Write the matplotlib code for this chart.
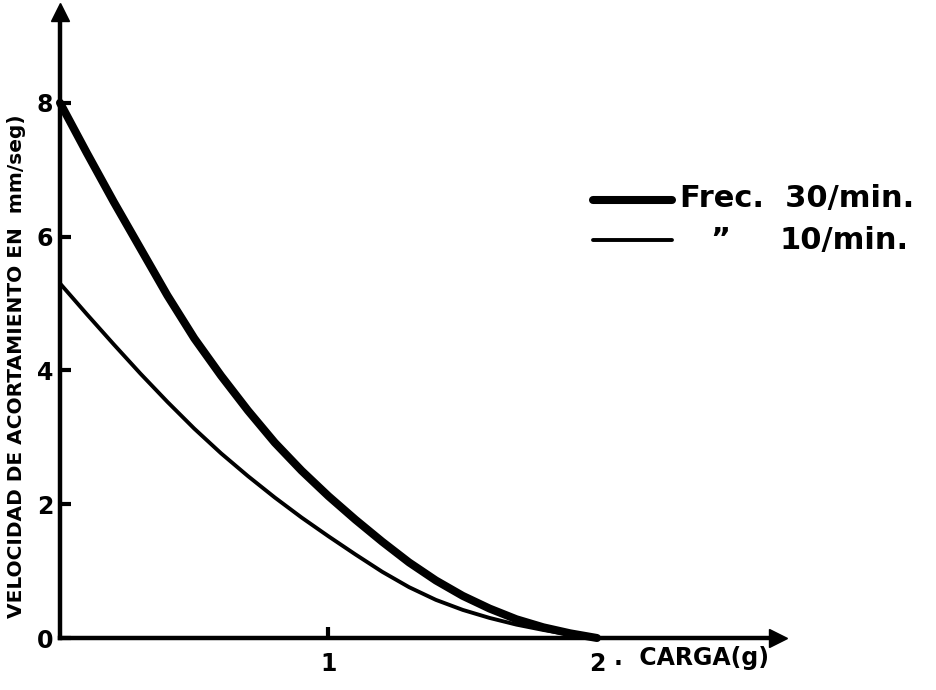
import matplotlib.pyplot as plt

# carga (g) y velocidad de acortamiento (mm/seg)
carga = [0, 0.1, 0.2, 0.3, 0.4, 0.5, 0.6, 0.7, 0.8, 0.9, 1.0,
         1.1, 1.2, 1.3, 1.4, 1.5, 1.6, 1.7, 1.8, 1.9, 2.0]
vel_30 = [8.0, 7.25, 6.52, 5.82, 5.12, 4.48, 3.92, 3.4, 2.92, 2.5, 2.12,
          1.77, 1.44, 1.13, 0.86, 0.63, 0.44, 0.28, 0.16, 0.07, 0.0]
vel_10 = [5.3, 4.84, 4.39, 3.95, 3.53, 3.13, 2.76, 2.42, 2.1, 1.8, 1.52,
          1.25, 0.99, 0.76, 0.57, 0.42, 0.3, 0.2, 0.12, 0.05, 0.0]
y_ticks = [0, 2, 4, 6, 8]
x_ticks = [1, 2]

W, H = 937, 690
fig = plt.figure(figsize=(W / 100, H / 100), dpi=100)
fig.patch.set_facecolor("white")

# origin at pixel (60, 638); x=2 at 597 px, y=8 at 103 px
x_max = (778 - 60) / 268.5
y_max = (638 - 12) / 66.9
ax = fig.add_axes([60 / W, 52 / H, 718 / W, 626 / H])
ax.set_xlim(0, x_max)
ax.set_ylim(0, y_max)

for s in ["top", "right"]:
    ax.spines[s].set_visible(False)
for s in ["left", "bottom"]:
    ax.spines[s].set_linewidth(3.2)
    ax.spines[s].set_color("black")

# arrow heads on the axes
ax.plot(1, 0, ">k", markersize=13, transform=ax.transAxes, clip_on=False)
ax.plot(0, 1, "^k", markersize=13, transform=ax.transAxes, clip_on=False)

ax.plot(carga, vel_30, color="black", lw=5.8, solid_capstyle="round",
        solid_joinstyle="round", clip_on=False)
ax.plot(carga, vel_10, color="black", lw=2.8, solid_capstyle="round",
        solid_joinstyle="round", clip_on=False)

ax.set_yticks(y_ticks)
ax.set_yticklabels([str(v) for v in y_ticks])
ax.set_xticks(x_ticks)
ax.set_xticklabels([str(v) for v in x_ticks])
ax.tick_params(axis="y", direction="in", length=8, width=3, pad=5,
               labelsize=17)
ax.tick_params(axis="x", direction="in", length=8, width=3, pad=10,
               labelsize=17)
for lab in ax.get_xticklabels() + ax.get_yticklabels():
    lab.set_fontweight("bold")
ax.get_xticklines()[2].set_visible(False)

fig.text(17 / W, 1 - 366 / H, "VELOCIDAD DE ACORTAMIENTO EN  mm/seg)",
         rotation=90, fontsize=14.5, fontweight="bold", ha="center",
         va="center")

fig.text(614 / W, 1 - 658 / H, ".  CARGA(g)", fontsize=17, fontweight="bold",
         va="center", ha="left")

# legend drawn by hand
fig.lines.append(plt.Line2D([593 / W, 672 / W], [1 - 200 / H, 1 - 200 / H],
                            transform=fig.transFigure, color="black", lw=5.8,
                            solid_capstyle="round"))
fig.lines.append(plt.Line2D([593 / W, 672 / W], [1 - 240 / H, 1 - 240 / H],
                            transform=fig.transFigure, color="black", lw=2.8,
                            solid_capstyle="round"))
fig.text(680 / W, 1 - 198 / H, "Frec.  30/min.", fontsize=22,
         fontweight="bold", va="center", ha="left")
fig.text(710 / W, 1 - 240 / H, "\u201d", fontsize=22, fontweight="bold",
         va="center", ha="left")
fig.text(780 / W, 1 - 240 / H, "10/min.", fontsize=22, fontweight="bold",
         va="center", ha="left")

fig.savefig("out.png", dpi=100, facecolor="white")
